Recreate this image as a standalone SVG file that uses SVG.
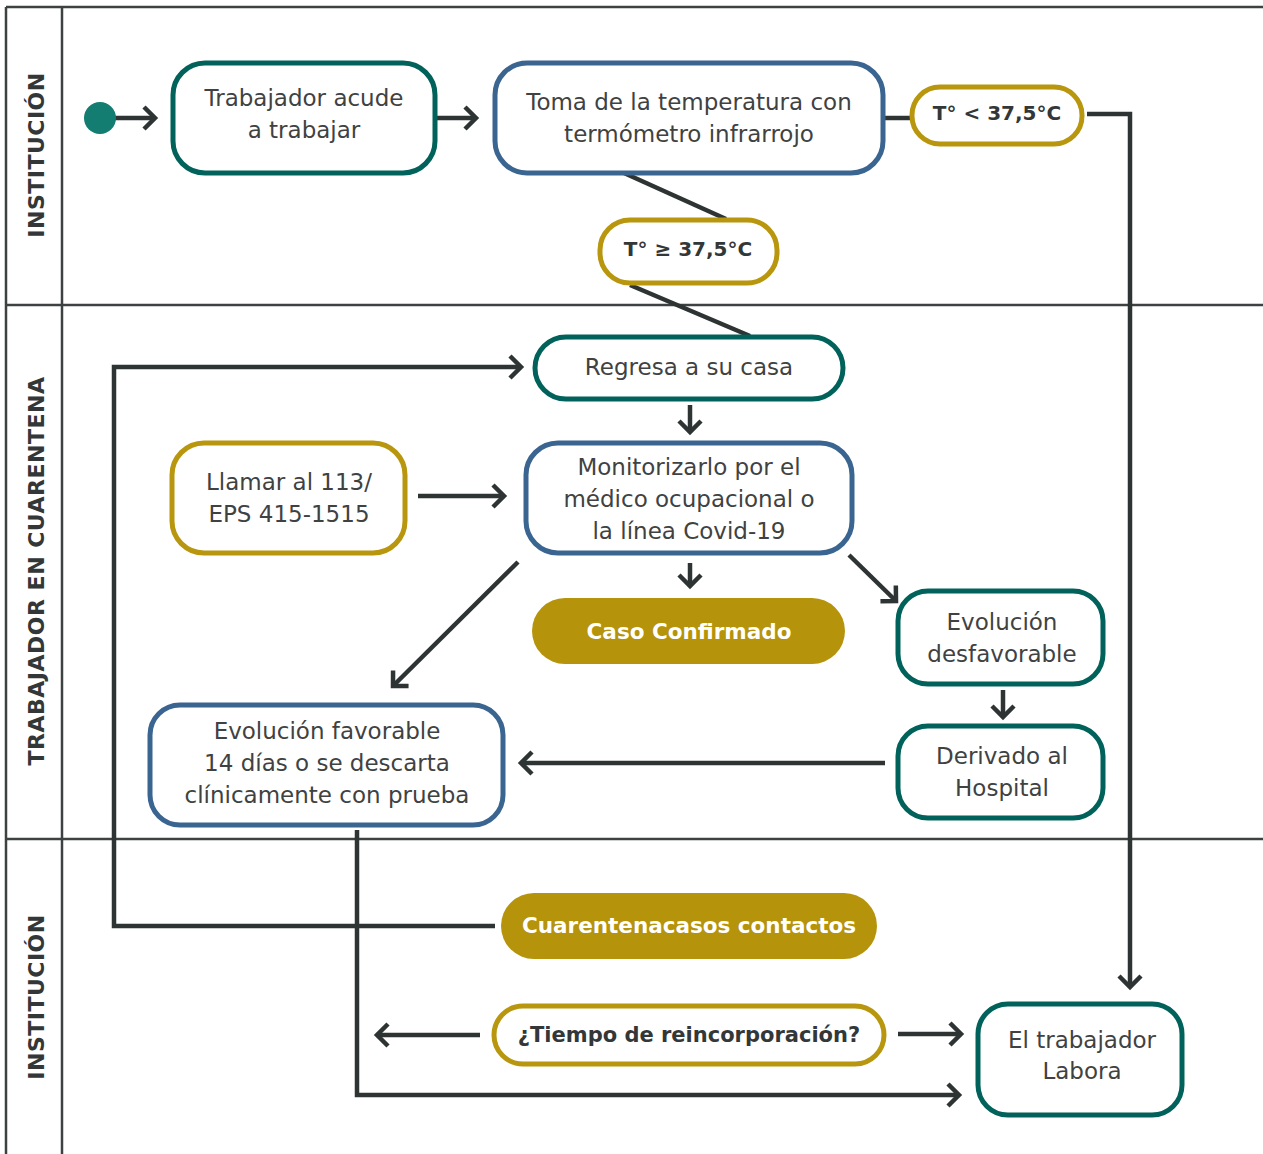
<svg xmlns="http://www.w3.org/2000/svg" width="1263" height="1154" viewBox="0 0 1263 1154">
<style>
.lane{stroke:#3d4141;stroke-width:2.5;fill:none}
.lbl{font-family:"DejaVu Sans",sans-serif;font-weight:bold;font-size:22px;fill:#333738;text-anchor:middle;dominant-baseline:central;letter-spacing:0.5px}
.teal{fill:#fff;stroke:#00625a;stroke-width:5}
.blue{fill:#fff;stroke:#3b6591;stroke-width:5}
.gold{fill:#fff;stroke:#b8960e;stroke-width:5}
.goldf{fill:#b5930a;stroke:none}
.t{font-family:"DejaVu Sans",sans-serif;font-size:23px;fill:#404242;text-anchor:middle}
.b{font-family:"DejaVu Sans",sans-serif;font-weight:bold;font-size:20px;fill:#333738;text-anchor:middle}
.w{font-family:"DejaVu Sans",sans-serif;font-weight:bold;font-size:21.5px;fill:#ffffff;text-anchor:middle}
.c{fill:none;stroke:#2e3433;stroke-width:4.5}
.a{fill:none;stroke:#2e3433;stroke-width:4.5;marker-end:url(#ah)}
</style>
<defs>
<marker id="ah" markerUnits="userSpaceOnUse" viewBox="-16 -14 20 28" markerWidth="20" markerHeight="28" refX="0" refY="0" orient="auto" overflow="visible">
<path d="M-11,-11 L0,0 L-11,11" fill="none" stroke="#2e3433" stroke-width="4.5"/>
</marker>
</defs>
<g id="lanes">
<line class="lane" x1="6" y1="7" x2="1263" y2="7"/>
<line class="lane" x1="6" y1="7" x2="6" y2="1154"/>
<line class="lane" x1="62" y1="7" x2="62" y2="1154"/>
<line class="lane" x1="6" y1="305" x2="1263" y2="305"/>
<line class="lane" x1="6" y1="839" x2="1263" y2="839"/>
<text class="lbl" transform="translate(36,155) rotate(-90)">INSTITUCIÓN</text>
<text class="lbl" transform="translate(36,571) rotate(-90)">TRABAJADOR EN CUARENTENA</text>
<text class="lbl" transform="translate(36,997) rotate(-90)">INSTITUCIÓN</text>
</g>
<g id="connectors">
<line class="a" x1="114" y1="118" x2="155" y2="118"/>
<line class="a" x1="436" y1="118" x2="476" y2="118"/>
<line class="c" x1="883" y1="118" x2="911" y2="118"/>
<polyline class="a" points="1087,114 1130,114 1130,987"/>
<line class="c" x1="624" y1="173" x2="726" y2="219"/>
<line class="c" x1="630" y1="285" x2="750" y2="336"/>
<polyline class="a" points="495,926 114,926 114,367 521,367"/>
<line class="a" x1="690" y1="405" x2="690" y2="432"/>
<line class="a" x1="418" y1="496" x2="504" y2="496"/>
<line class="a" x1="690" y1="563" x2="690" y2="586"/>
<line class="a" x1="849" y1="555" x2="896" y2="601"/>
<line class="a" x1="518" y1="562" x2="393" y2="686"/>
<line class="a" x1="1003" y1="690" x2="1003" y2="717"/>
<line class="a" x1="885" y1="763" x2="521" y2="763"/>
<polyline class="a" points="357,830 357,1095 959,1095"/>
<line class="a" x1="480" y1="1035" x2="377" y2="1035"/>
<line class="a" x1="898" y1="1034" x2="961" y2="1034"/>
</g>
<g id="start"><circle cx="100" cy="118" r="16" fill="#137d72"/></g>
<g id="n-trabajador">
<rect class="teal" x="173" y="63" width="262" height="110" rx="32"/>
<text class="t" x="304" y="106">Trabajador acude</text>
<text class="t" x="304" y="138">a trabajar</text>
</g>
<g id="n-toma">
<rect class="blue" x="495" y="63" width="388" height="110" rx="32"/>
<text class="t" x="689" y="110">Toma de la temperatura con</text>
<text class="t" x="689" y="142">termómetro infrarrojo</text>
</g>
<g id="n-menor">
<rect class="gold" x="912" y="87" width="170" height="57" rx="28"/>
<text class="b" x="997" y="120">T° &lt; 37,5°C</text>
</g>
<g id="n-mayor">
<rect class="gold" x="600" y="220" width="177" height="63" rx="30"/>
<text class="b" x="688" y="256">T° ≥ 37,5°C</text>
</g>
<g id="n-regresa">
<rect class="teal" x="535" y="337" width="308" height="62" rx="31"/>
<text class="t" x="689" y="375">Regresa a su casa</text>
</g>
<g id="n-llamar">
<rect class="gold" x="172" y="443" width="233" height="110" rx="32"/>
<text class="t" x="289" y="490">Llamar al 113/</text>
<text class="t" x="289" y="522">EPS 415-1515</text>
</g>
<g id="n-monitor">
<rect class="blue" x="526" y="443" width="326" height="110" rx="32"/>
<text class="t" x="689" y="475">Monitorizarlo por el</text>
<text class="t" x="689" y="507">médico ocupacional o</text>
<text class="t" x="689" y="539">la línea Covid-19</text>
</g>
<g id="n-caso">
<rect class="goldf" x="532" y="598" width="313" height="66" rx="33"/>
<text class="w" x="689" y="639">Caso Confirmado</text>
</g>
<g id="n-desfav">
<rect class="teal" x="898" y="591" width="205" height="93" rx="30"/>
<text class="t" x="1002" y="630">Evolución</text>
<text class="t" x="1002" y="662">desfavorable</text>
</g>
<g id="n-hospital">
<rect class="teal" x="898" y="726" width="205" height="92" rx="30"/>
<text class="t" x="1002" y="764">Derivado al</text>
<text class="t" x="1002" y="796">Hospital</text>
</g>
<g id="n-favorable">
<rect class="blue" x="150" y="705" width="353" height="120" rx="30"/>
<text class="t" x="327" y="739">Evolución favorable</text>
<text class="t" x="327" y="771">14 días o se descarta</text>
<text class="t" x="327" y="803">clínicamente con prueba</text>
</g>
<g id="n-cuarentena">
<rect class="goldf" x="501" y="893" width="376" height="66" rx="33"/>
<text class="w" x="689" y="933">Cuarentenacasos contactos</text>
</g>
<g id="n-tiempo">
<rect class="gold" x="494" y="1006" width="390" height="58" rx="29"/>
<text class="b" x="689" y="1042" style="font-size:21px">¿Tiempo de reincorporación?</text>
</g>
<g id="n-labora">
<rect class="teal" x="978" y="1004" width="204" height="111" rx="30"/>
<text class="t" x="1082" y="1048">El trabajador</text>
<text class="t" x="1082" y="1079">Labora</text>
</g>
</svg>
